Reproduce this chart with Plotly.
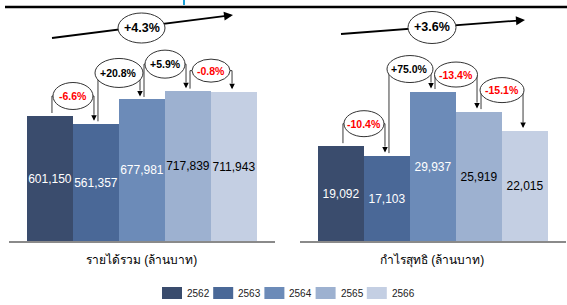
import math
import plotly.graph_objects as go

# ---------------- data ----------------
years = ["2562", "2563", "2564", "2565", "2566"]
revenue = [601150, 561357, 677981, 717839, 711943]
profit = [19092, 17103, 29937, 25919, 22015]
revenue_changes = ["-6.6%", "+20.8%", "+5.9%", "-0.8%"]
profit_changes = ["-10.4%", "+75.0%", "-13.4%", "-15.1%"]
revenue_cagr = "+4.3%"
profit_cagr = "+3.6%"
revenue_title = "รายได้รวม (ล้านบาท)"
profit_title = "กำไรสุทธิ (ล้านบาท)"

# ---------------- style ----------------
bar_colors = ["#3a4c6d", "#4a6897", "#6c8bb8", "#9db1d0", "#c4cfe3"]
label_colors = ["white", "white", "white", "black", "black"]
FONT = "Liberation Sans, Arial, sans-serif"
W, H = 567, 305
BASE_PX = 241          # pixel row of the baseline
PH = BASE_PX           # plot height in px (domain from baseline to top)
CAT_PX = 46.0
rev_max = PH * 4790
pro_max = PH * 200.3

# ellipse offsets (px above higher bar) and sizes (w,h px)
rev_off = [19.5, 26.5, 27, 20.5]
rev_size = [(40, 27), (48, 29), (40, 28), (38, 23)]
pro_off = [22, 22.5, 17, 21.5]
pro_size = [(40, 26), (46, 27), (43, 25), (44, 25)]

fig = go.Figure()
xs = list(range(len(years)))

for vals, xa, ya in [(revenue, "x", "y"), (profit, "x2", "y2")]:
    fig.add_trace(go.Bar(
        x=xs, y=vals, width=1, marker=dict(color=bar_colors, line=dict(width=0)),
        texttemplate="%{y:,}", textposition="inside", insidetextanchor="middle",
        constraintext="none", textangle=0,
        textfont=dict(family=FONT, size=12, color=label_colors),
        xaxis=xa, yaxis=ya, showlegend=False, hoverinfo="skip"))

ydom = [(H - BASE_PX) / H, 1]
axis_common = dict(showline=True, linecolor="#8a8a8a", linewidth=1.5, showticklabels=False,
                   showgrid=False, zeroline=False, ticks="", range=[-0.89, 4.89], fixedrange=True)
fig.update_layout(
    width=W, height=H, margin=dict(l=0, r=0, t=0, b=0),
    paper_bgcolor="white", plot_bgcolor="rgba(0,0,0,0)",
    bargap=0, barmode="group",
    xaxis=dict(domain=[9 / W, 275 / W], anchor="y", **axis_common),
    xaxis2=dict(domain=[300 / W, 566 / W], anchor="y2", **axis_common),
    yaxis=dict(domain=ydom, range=[0, rev_max], visible=False, fixedrange=True),
    yaxis2=dict(domain=ydom, range=[0, pro_max], visible=False, fixedrange=True, anchor="x2"),
)

shapes_lines = []
shapes_ell = []
annots = []


def brackets(vals, changes, offs, sizes, xr_, yr_, ymax):
    u = ymax / PH
    for i, txt in enumerate(changes):
        top = max(vals[i], vals[i + 1])
        cy = top + offs[i] * u
        cx = i + 0.5
        xl = i + 2 / CAT_PX
        xrr = i + 1 - 2 / CAT_PX
        y_start = vals[i] + 2.5 * u
        y_tip = vals[i + 1] + 3 * u
        lc = "#3a3a3a"
        shapes_lines.append(dict(type="line", xref=xr_, yref=yr_, x0=xl, x1=xl, y0=y_start, y1=cy,
                                 line=dict(color=lc, width=1)))
        shapes_lines.append(dict(type="line", xref=xr_, yref=yr_, x0=xl, x1=xrr, y0=cy, y1=cy,
                                 line=dict(color=lc, width=1)))
        shapes_lines.append(dict(type="line", xref=xr_, yref=yr_, x0=xrr, x1=xrr, y0=cy, y1=y_tip + 6 * u,
                                 line=dict(color=lc, width=1)))
        annots.append(dict(xref=xr_, yref=yr_, axref=xr_, ayref=yr_, x=xrr, y=y_tip, ax=xrr, ay=y_tip + 7 * u,
                           text="", showarrow=True, arrowhead=2, arrowsize=1.1, arrowwidth=1,
                           arrowcolor="black", standoff=0, startstandoff=0))
        w, h = sizes[i]
        shapes_ell.append(dict(type="circle", xref=xr_, yref=yr_, xsizemode="pixel", ysizemode="pixel",
                               xanchor=cx, yanchor=cy, x0=-w / 2, x1=w / 2, y0=-h / 2, y1=h / 2,
                               fillcolor="white", line=dict(color="#333333", width=1)))
        color = "#ff0000" if txt.startswith("-") else "black"
        annots.append(dict(xref=xr_, yref=yr_, x=cx, y=cy, xanchor="center", yanchor="middle",
                           text="<b>%s</b>" % txt, showarrow=False,
                           font=dict(family=FONT, size=10.5, color=color)))


brackets(revenue, revenue_changes, rev_off, rev_size, "x", "y", rev_max)
brackets(profit, profit_changes, pro_off, pro_size, "x2", "y2", pro_max)


def px_x(p):
    return p / W


def px_y(p):
    return 1 - p / H


# CAGR arrows with ellipse labels
for (x0, y0, x1, y1, cx, cy, w, h, txt) in [
        (52, 38, 233, 15, 141.5, 28, 47, 30, revenue_cagr),
        (341, 34, 525, 20, 432, 27.5, 48, 32, profit_cagr)]:
    L = math.hypot(x1 - x0, y1 - y0)
    dx, dy = (x1 - x0) / L, (y1 - y0) / L
    hx, hy = x1 - 9 * dx, y1 - 9 * dy
    shapes_lines.append(dict(type="line", xref="paper", yref="paper", x0=px_x(x0), y0=px_y(y0),
                             x1=px_x(hx + 2 * dx), y1=px_y(hy + 2 * dy),
                             line=dict(color="black", width=1.8)))
    annots.append(dict(xref="paper", yref="paper", x=px_x(x1), y=px_y(y1), ax=hx - x1, ay=hy - y1,
                       text="", showarrow=True, arrowhead=2, arrowsize=1, arrowwidth=1.8,
                       arrowcolor="black", standoff=0, startstandoff=0))
    shapes_ell.append(dict(type="circle", xref="paper", yref="paper",
                           x0=px_x(cx - w / 2), x1=px_x(cx + w / 2), y0=px_y(cy + h / 2), y1=px_y(cy - h / 2),
                           fillcolor="white", line=dict(color="#333333", width=1)))
    annots.append(dict(xref="paper", yref="paper", x=px_x(cx), y=px_y(cy), xanchor="center", yanchor="middle",
                       text="<b>%s</b>" % txt, showarrow=False, font=dict(family=FONT, size=12.5, color="black")))

# top rule and stub
shapes_lines.append(dict(type="line", xref="paper", yref="paper", x0=px_x(5), x1=1, y0=px_y(7), y1=px_y(7),
                         line=dict(color="black", width=2.5)))
shapes_lines.append(dict(type="line", xref="paper", yref="paper", x0=px_x(184), x1=px_x(184), y0=1,
                         y1=px_y(5), line=dict(color="#1aa0d8", width=2)))

# axis titles
for txt, cx in [(revenue_title, 141), (profit_title, 432)]:
    annots.append(dict(xref="paper", yref="paper", x=px_x(cx), y=px_y(260), xanchor="center", yanchor="middle",
                       text=txt, showarrow=False,
                       font=dict(family="Liberation Sans, Noto Sans, sans-serif", size=12, color="black")))

# legend (manual)
for i, (yr, col) in enumerate(zip(years, bar_colors)):
    lx = 162 + i * 51.2
    shapes_ell.append(dict(type="rect", xref="paper", yref="paper", x0=px_x(lx), x1=px_x(lx + 20),
                           y0=px_y(299), y1=px_y(287), fillcolor=col, line=dict(width=0)))
    annots.append(dict(xref="paper", yref="paper", x=px_x(lx + 23), y=px_y(293), xanchor="left",
                       yanchor="middle", text=yr, showarrow=False,
                       font=dict(family=FONT, size=10, color="#222222")))

fig.update_layout(shapes=shapes_lines + shapes_ell, annotations=annots)
fig.write_html("out.html", config={"displayModeBar": False},
               post_script="document.body.style.margin='0';")
